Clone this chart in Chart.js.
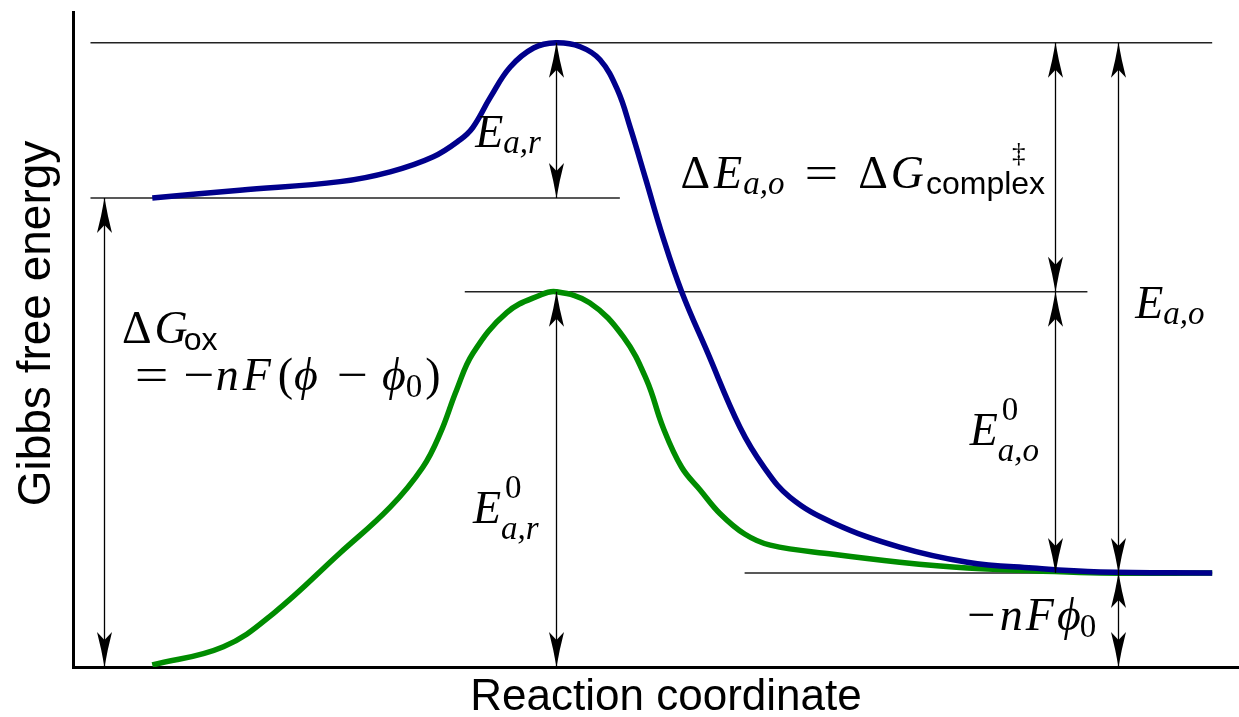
<!DOCTYPE html>
<html><head><meta charset="utf-8">
<script src="https://cdn.jsdelivr.net/npm/chart.js@4.4.1/dist/chart.umd.min.js"></script>
<style>html,body{margin:0;padding:0;background:#fff;overflow:hidden}#wrap{width:1239px;height:717px;position:relative}</style>
</head><body><div id="wrap"><canvas id="c" width="1239" height="717"></canvas></div>
<script>
// Reaction coordinate (0-100) and Gibbs free energy (0-100, arbitrary units)
const blueX = [6.8, 14.3, 22.9, 27.2, 30.9, 33.2, 34.3, 35.8, 37.5, 39.5, 41.4, 43.5, 45.2, 46.7, 47.8, 49.1, 50.6, 52.2, 54.4, 57.2, 59.3, 61.5, 65.2, 70.9, 76.7, 82.3, 88.1, 97.7];
const blueY = [71.6, 72.8, 74.1, 75.6, 77.9, 80.5, 82.4, 87.0, 91.6, 94.5, 95.3, 94.7, 92.7, 88.1, 82.3, 74.6, 65.6, 57.3, 48.1, 36.6, 30.4, 25.9, 22.0, 18.3, 16.0, 15.1, 14.5, 14.35];
const greenX = [6.8, 12.9, 17.2, 22.9, 27.2, 30.0, 31.5, 32.9, 34.3, 37.2, 40.1, 41.4, 44.3, 47.2, 49.2, 50.6, 52.2, 53.8, 55.5, 57.6, 59.8, 65.2, 70.9, 76.7, 82.3, 88.1, 97.7];
const greenY = [0.3, 3.1, 8.2, 17.4, 24.4, 30.5, 35.7, 42.3, 47.9, 54.1, 56.8, 57.3, 55.6, 50.4, 43.8, 36.6, 30.5, 27.0, 23.4, 20.3, 18.6, 17.2, 16.0, 15.1, 14.7, 14.35, 14.35];
// reference energy levels
const levelY  = [95.3, 71.6, 57.3, 14.35];
const levelX0 = [1.5, 1.5, 33.6, 57.6];
const levelX1 = [97.7, 46.9, 87.0, 97.7];
// double-headed arrows
const arrowX    = [2.7, 41.4, 41.4, 84.2, 84.2, 89.6, 89.6];
const arrowFrom = [71.6, 95.3, 57.3, 95.3, 57.3, 95.3, 14.35];
const arrowTo   = [0, 71.6, 0, 57.3, 14.35, 14.35, 0];
const xTitle = 'Reaction coordinate';
const yTitle = 'Gibbs free energy';

const MF = '"Liberation Serif", "Times New Roman", "DejaVu Serif", serif';
const SF = '"Liberation Sans", Arial, sans-serif';
const M = 46, S = 33;
const F = {
  u: M + 'px ' + MF,
  i: 'italic ' + M + 'px ' + MF,
  su: S + 'px ' + MF,
  dg: '27px ' + MF,
  si: 'italic ' + S + 'px ' + MF,
  ss: '32px ' + SF
};
const PHI = '\u03d5';
// math labels: anchor in data units (left, baseline); runs: [text, font, dy, dx, stay, scaleX]
const labels = [
  {x: 34.5, y: 79.4, runs: [['E','i'], ['a,r','si',6,0]]},
  {x: 52.1, y: 73.1, runs: [['\u0394','u'], ['E','i',0,4], ['a,o','si',6,1], ['=','u',0,20,false,1.3], ['\u0394','u',0,20], ['G','i',0,3], ['\u2021','dg',-26,88,true], ['complex','ss',6,2]]},
  {x: 4.2, y: 49.5, runs: [['\u0394','u'], ['G','i',0,3], ['ox','ss',7,-4]]},
  {x: 5.3, y: 42.3, runs: [['=','u',0,0,false,1.3], ['\u2212','u',0,15,false,1.2], ['n','i',0,1], ['F','i',0,4], ['(','u',0,7], [PHI,'i',0,1], ['\u2212','u',0,19,false,1.2], [PHI,'i',0,14], ['0','su',7,0], [')','u',0,3]]},
  {x: 34.3, y: 22.0, runs: [['E','i'], ['0','su',-25,4,true], ['a,r','si',16,0]]},
  {x: 76.9, y: 33.9, runs: [['E','i'], ['0','su',-25,4,true], ['a,o','si',16,0]]},
  {x: 76.7, y: 5.6, runs: [['\u2212','u',0,0,false,1.1], ['n','i',0,4], ['F','i',0,3], [PHI,'i',0,3], ['0','su',7,-1]]},
  {x: 91.1, y: 53.3, runs: [['E','i'], ['a,o','si',6,0]]}
];

function head(ctx, x, y, dir) {
  const L = 35, W = 7.5, N = 27;
  ctx.beginPath();
  ctx.moveTo(x, y);
  ctx.quadraticCurveTo(x - W * 0.4, y - dir * L * 0.5, x - W, y - dir * L);
  ctx.lineTo(x, y - dir * N);
  ctx.lineTo(x + W, y - dir * L);
  ctx.quadraticCurveTo(x + W * 0.4, y - dir * L * 0.5, x, y);
  ctx.closePath();
  ctx.fill();
}

const annot = {
  id: 'annot',
  afterDatasetsDraw(chart) {
    const ctx = chart.ctx, xs = chart.scales.x, ys = chart.scales.y;
    ctx.save();
    ctx.strokeStyle = '#000'; ctx.fillStyle = '#000'; ctx.lineWidth = 1.3;
    for (let i = 0; i < arrowX.length; i++) {
      const px = Math.round(xs.getPixelForValue(arrowX[i])) + 0.5;
      const a = ys.getPixelForValue(arrowFrom[i]), b = ys.getPixelForValue(arrowTo[i]);
      ctx.beginPath(); ctx.moveTo(px, a); ctx.lineTo(px, b); ctx.stroke();
      head(ctx, px, a, Math.sign(a - b));
      head(ctx, px, b, Math.sign(b - a));
    }
    ctx.textBaseline = 'alphabetic'; ctx.textAlign = 'left';
    for (const lab of labels) {
      let cx = xs.getPixelForValue(lab.x);
      const by = ys.getPixelForValue(lab.y);
      for (const r of lab.runs) {
        const [t, f, dy = 0, dx = 0, stay = false, sx = 1] = r;
        ctx.font = F[f];
        ctx.save();
        ctx.translate(cx + dx, by + dy);
        ctx.scale(sx, 1);
        ctx.fillText(t, 0, 0);
        ctx.restore();
        if (!stay) cx += dx + ctx.measureText(t).width * sx;
      }
    }
    ctx.restore();
  },
  afterDraw(chart) {
    const ctx = chart.ctx, ca = chart.chartArea;
    ctx.save();
    ctx.fillStyle = '#000';
    ctx.textAlign = 'center'; ctx.textBaseline = 'middle';
    ctx.font = '44px ' + SF;
    ctx.fillText(xTitle, (ca.left + ca.right) / 2 + 10, ca.bottom + 31);
    ctx.font = '46px ' + SF;
    ctx.translate(ca.left - 36, (ca.top + ca.bottom) / 2 - 16);
    ctx.rotate(-Math.PI / 2);
    ctx.fillText(yTitle, 0, 0);
    ctx.restore();
  }
};

const pts = (xa, ya) => xa.map((v, i) => ({x: v, y: ya[i]}));
const datasets = [
  {data: pts(blueX, blueY), borderColor: '#00008c', borderWidth: 5.5, order: 0, tension: 0.4},
  {data: pts(greenX, greenY), borderColor: '#008c00', borderWidth: 5.5, order: 1, tension: 0.4}
];
for (let i = 0; i < levelY.length; i++) {
  datasets.push({data: [{x: levelX0[i], y: levelY[i]}, {x: levelX1[i], y: levelY[i]}], borderColor: '#222', borderWidth: 1.5, order: 2, tension: 0});
}
datasets.forEach(d => { d.pointRadius = 0; d.fill = false; });

new Chart(document.getElementById('c'), {
  type: 'line',
  data: {datasets},
  options: {
    responsive: false, animation: false, events: [],
    layout: {padding: {left: 73, right: 0, top: 12, bottom: 50}, autoPadding: false},
    plugins: {legend: {display: false}, tooltip: {enabled: false}},
    scales: {
      x: {type: 'linear', min: 0, max: 100, grid: {display: false, drawTicks: false}, ticks: {display: false}, border: {display: true, color: '#000', width: 3}},
      y: {type: 'linear', min: 0, max: 100, grid: {display: false, drawTicks: false}, ticks: {display: false}, border: {display: true, color: '#000', width: 3}}
    }
  },
  plugins: [annot]
});
</script>
</body></html>
